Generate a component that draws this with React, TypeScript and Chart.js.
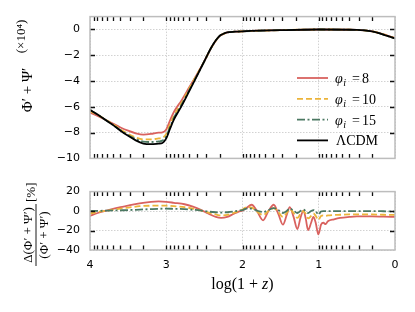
import React, { useEffect, useRef } from "react";
import { Chart, registerables } from "chart.js";
Chart.register(...registerables);

// ---------- data ----------
const topX = [4.0, 3.9, 3.8, 3.7, 3.6, 3.5, 3.4, 3.3, 3.2, 3.1, 3.05, 3.0, 2.95, 2.9, 2.8, 2.7, 2.6, 2.5, 2.4, 2.3, 2.25, 2.2, 2.1, 2.0, 1.5, 1.0, 0.5, 0.3, 0.2, 0.1, 0.0];
const topLCDM = [-6.25, -6.6, -7.0, -7.4, -7.85, -8.25, -8.6, -8.85, -8.9, -8.85, -8.8, -8.45, -7.7, -7.0, -5.95, -4.8, -3.63, -2.46, -1.3, -0.5, -0.33, -0.22, -0.17, -0.14, -0.05, 0, -0.03, -0.15, -0.3, -0.5, -0.7];
const topPhi8 = [-6.45, -6.7, -7.0, -7.3, -7.6, -7.85, -8.05, -8.15, -8.1, -8.0, -7.98, -7.75, -7.05, -6.4, -5.5, -4.5, -3.5, -2.45, -1.33, -0.52, -0.35, -0.23, -0.17, -0.14, -0.05, 0, -0.03, -0.14, -0.28, -0.47, -0.66];
const topPhi10 = [-6.35, -6.62, -6.98, -7.35, -7.75, -8.1, -8.38, -8.52, -8.52, -8.45, -8.4, -8.1, -7.35, -6.7, -5.7, -4.6, -3.52, -2.45, -1.32, -0.51, -0.34, -0.22, -0.17, -0.14, -0.05, 0, -0.03, -0.15, -0.29, -0.48, -0.68];
const topPhi15 = [-6.25, -6.6, -7.0, -7.4, -7.82, -8.2, -8.5, -8.7, -8.73, -8.68, -8.62, -8.3, -7.55, -6.85, -5.85, -4.72, -3.6, -2.46, -1.31, -0.5, -0.33, -0.22, -0.17, -0.14, -0.05, 0, -0.03, -0.15, -0.3, -0.5, -0.7];

const resX = [4.0, 3.9, 3.76, 3.6, 3.5, 3.35, 3.2, 3.1, 3.0, 2.9, 2.76, 2.65, 2.54, 2.45, 2.35, 2.28, 2.2, 2.12, 2.05, 2.0, 1.95, 1.88, 1.81, 1.73, 1.66, 1.59, 1.53, 1.47, 1.42, 1.38, 1.33, 1.28, 1.24, 1.2, 1.17, 1.14, 1.1, 1.07, 1.04, 1.005, 0.97, 0.94, 0.91, 0.88, 0.8, 0.72, 0.6, 0.5, 0.3, 0.15, 0.0];
const resPhi8 = [-5, -2, 1, 4, 5.5, 8, 9.5, 10, 9.5, 8.5, 7, 4.5, 1, -2.5, -6, -7, -6, -3, -0.5, 0.5, 3, 6.5, 0, -9.5, 0, 6.5, -3, -14, -4, 4, -6, -18.5, -7, 0.5, -8, -19.5, -12, -6, -12, -24, -14, -12, -13.5, -10.5, -8.5, -7, -6, -5.5, -5.5, -5.8, -6];
const resPhi10 = [-2.5, -1, 0.5, 2.5, 3.5, 5, 5.5, 5.6, 5.5, 5, 4, 2.5, 0.5, -1.5, -3.5, -4.5, -4, -2, 0, 1.5, 4, 3.5, -0.5, -4, 0, 3, -1, -6, -2, 2, -2, -7, -3, 0, -3, -7.5, -5, -2.5, -5, -9, -5, -4.5, -5, -4.5, -4, -3.8, -3.5, -3.5, -3.5, -3.8, -4];
const resPhi15 = [0, 0.2, 0.5, 0.8, 1, 1.5, 2, 2.3, 2.5, 2.3, 2, 1.3, 0.5, -0.5, -1.2, -1.5, -1.2, -0.5, 0.5, 1, 2.5, 2.5, 0.5, -1, 1, 3, 1, -2, 0, 2.5, 0.5, -2, 0, 1.5, 0, -2, 0, 1, 0, -3.5, -0.5, 0, 0, 0, 0, 0, 0, 0, 0, -0.2, -0.5];

const xTickValues = [0, 1, 2, 3, 4];
const xTickLabels = ["0", "1", "2", "3", "4"];
const topYTicks = [-10, -8, -6, -4, -2, 0];
const resYTicks = [-40, -20, 0, 20];
const minorDecades = [0, 1, 2, 3];
const minorOffsets = [0, 0.301, 0.477, 0.602, 0.699, 0.778, 0.845, 0.903, 0.954];

const legendNumbers = ["8", "10", "15"];
const legendLast = "ΛCDM";
const topYTitle = "Φ′ + Ψ′";
const topMultiplier = "(×10⁴)";
const resNumerator = "Δ(Φ′ + Ψ′)";
const resDenominator = "(Φ′ + Ψ′)";
const resUnit = "[%]";

// ---------- styles ----------
const RED = "#d9625f";
const ORANGE = "#ecb43a";
const GREEN = "#4b7862";
const BLACK = "#000000";
const DASH_OR = [6, 3];
const DASH_GR = [8, 2.5, 2, 2.5];
const SERIF = '"Liberation Serif", "DejaVu Serif", serif';
const SANS = '"DejaVu Sans", sans-serif';
const GRID = "#d2d2d2";

const pts = (xs: number[], ys: number[]) => xs.map((x, i) => ({ x, y: ys[i] }));

const lineDs = (label: string, data: any, color: string, dash: number[]) => ({
  label,
  data,
  borderColor: color,
  backgroundColor: color,
  borderWidth: 1.8,
  borderDash: dash,
  pointRadius: 0,
  cubicInterpolationMode: "monotone" as const,
  fill: false,
});

function framePlugin(yTicks: number[]) {
  return {
    id: "frame",
    afterDatasetsDraw(chart: any) {
      const { ctx, chartArea: a, scales } = chart;
      const xs = scales.x;
      const ys = scales.y;
      ctx.save();
      ctx.strokeStyle = "#111";
      ctx.lineWidth = 1.3;
      ctx.beginPath();
      for (const n of minorDecades) {
        for (const off of minorOffsets) {
          const v = n + off;
          if (v <= 0 || v >= 4) continue;
          const px = Math.round(xs.getPixelForValue(v)) + 0.5;
          ctx.moveTo(px, a.top);
          ctx.lineTo(px, a.top + 4.5);
          ctx.moveTo(px, a.bottom);
          ctx.lineTo(px, a.bottom - 4.5);
        }
      }
      for (const v of yTicks) {
        if (v <= ys.min || v >= ys.max) continue;
        const py = Math.round(ys.getPixelForValue(v)) + 0.5;
        ctx.moveTo(a.left, py);
        ctx.lineTo(a.left + 5, py);
        ctx.moveTo(a.right, py);
        ctx.lineTo(a.right - 5, py);
      }
      ctx.stroke();
      ctx.strokeStyle = "#bdbdbd";
      ctx.lineWidth = 1.5;
      ctx.strokeRect(a.left, a.top, a.right - a.left, a.bottom - a.top);
      ctx.restore();
    },
  };
}

const topTextPlugin = {
  id: "topText",
  afterDraw(chart: any) {
    const ctx = chart.ctx;
    ctx.save();
    ctx.fillStyle = "#000";
    ctx.textAlign = "center";
    ctx.textBaseline = "alphabetic";
    ctx.translate(32, 90);
    ctx.rotate(-Math.PI / 2);
    ctx.font = `15px ${SERIF}`;
    ctx.fillText(topYTitle, 0, 0);
    ctx.restore();

    ctx.save();
    ctx.fillStyle = "#000";
    ctx.textAlign = "center";
    ctx.translate(24.5, 36.5);
    ctx.rotate(-Math.PI / 2);
    ctx.font = `13px ${SERIF}`;
    ctx.fillText(topMultiplier, 0, 0);
    ctx.restore();

    // legend
    const rows = [78, 98.8, 119.6, 140.4];
    const colors = [RED, ORANGE, GREEN, BLACK];
    const dashes = [[], DASH_OR, DASH_GR, []];
    ctx.save();
    for (let i = 0; i < 4; i++) {
      const y = rows[i];
      ctx.strokeStyle = colors[i];
      ctx.lineWidth = 1.8;
      ctx.setLineDash(dashes[i]);
      ctx.beginPath();
      ctx.moveTo(297, y);
      ctx.lineTo(328, y);
      ctx.stroke();
      ctx.setLineDash([]);
      ctx.fillStyle = "#000";
      ctx.textAlign = "left";
      ctx.textBaseline = "alphabetic";
      const by = y + 5;
      if (i < 3) {
        ctx.font = `italic 14px ${SERIF}`;
        ctx.fillText("φ", 335, by);
        const w = ctx.measureText("φ").width;
        ctx.font = `italic 10px ${SERIF}`;
        ctx.fillText("i", 335 + w + 0.5, by + 3);
        ctx.font = `14px ${SERIF}`;
        ctx.fillText("=", 352, by);
        ctx.fillText(legendNumbers[i], 362, by);
      } else {
        ctx.font = `14px ${SERIF}`;
        ctx.fillText(legendLast, 336, by);
      }
    }
    ctx.restore();
  },
};

const BOT_TOP = 175;

const botTextPlugin = {
  id: "botText",
  afterDraw(chart: any) {
    const ctx = chart.ctx;
    // y title fraction
    ctx.save();
    ctx.fillStyle = "#000";
    ctx.strokeStyle = "#000";
    ctx.translate(36, 235 - BOT_TOP);
    ctx.rotate(-Math.PI / 2);
    ctx.font = `13px ${SERIF}`;
    ctx.textAlign = "center";
    ctx.textBaseline = "alphabetic";
    ctx.fillText(resNumerator, 0, -4);
    ctx.fillText(resDenominator, 0, 12);
    ctx.lineWidth = 0.9;
    ctx.beginPath();
    ctx.moveTo(-31, 0);
    ctx.lineTo(31, 0);
    ctx.stroke();
    ctx.textAlign = "left";
    ctx.textBaseline = "middle";
    ctx.font = `13px ${SERIF}`;
    ctx.fillText(resUnit, 33, -4);
    ctx.restore();

    // x title
    ctx.save();
    ctx.fillStyle = "#000";
    ctx.textBaseline = "alphabetic";
    ctx.textAlign = "left";
    const parts: [string, string][] = [
      ["log(1 + ", `16px ${SERIF}`],
      ["z", `italic 16px ${SERIF}`],
      [")", `16px ${SERIF}`],
    ];
    let total = 0;
    for (const [t, f] of parts) {
      ctx.font = f;
      total += ctx.measureText(t).width;
    }
    let x = 242.5 - total / 2;
    const by = 289 - BOT_TOP;
    for (const [t, f] of parts) {
      ctx.font = f;
      ctx.fillText(t, x, by);
      x += ctx.measureText(t).width;
    }
    ctx.restore();
  },
};

const gridCfg = { color: GRID, lineWidth: 1, drawTicks: false };
const borderCfg = { display: false, dash: [1.5, 1.5] };

export default function App() {
  const topRef = useRef<HTMLCanvasElement>(null);
  const botRef = useRef<HTMLCanvasElement>(null);

  useEffect(() => {
    const topChart = new Chart(topRef.current as HTMLCanvasElement, {
      type: "line",
      data: {
        datasets: [
          lineDs("ΛCDM", pts(topX, topLCDM), BLACK, []),
          lineDs("φi = 15", pts(topX, topPhi15), GREEN, DASH_GR),
          lineDs("φi = 10", pts(topX, topPhi10), ORANGE, DASH_OR),
          lineDs("φi = 8", pts(topX, topPhi8), RED, []),
        ],
      },
      options: {
        animation: false,
        responsive: false,
        devicePixelRatio: 1,
        layout: { padding: { top: 16, right: 20, bottom: 12, left: 0 } },
        plugins: { legend: { display: false }, tooltip: { enabled: false } },
        scales: {
          x: {
            type: "linear",
            min: 0,
            max: 4,
            reverse: true,
            afterBuildTicks: (s: any) => {
              s.ticks = xTickValues.map((v) => ({ value: v }));
            },
            afterFit: (s: any) => {
              s.height = 0;
            },
            ticks: { display: false },
            grid: gridCfg,
            border: borderCfg,
          },
          y: {
            type: "linear",
            min: -10,
            max: 1,
            afterBuildTicks: (s: any) => {
              s.ticks = topYTicks.map((v) => ({ value: v }));
            },
            afterFit: (s: any) => {
              s.width = 90;
            },
            ticks: {
              color: "#000",
              padding: 10,
              font: { family: SANS, size: 11 },
              callback: (v: any) => (v < 0 ? "−" + Math.abs(v) : String(v)),
            },
            grid: gridCfg,
            border: borderCfg,
          },
        },
      } as any,
      plugins: [framePlugin(topYTicks), topTextPlugin],
    });

    const botChart = new Chart(botRef.current as HTMLCanvasElement, {
      type: "line",
      data: {
        datasets: [
          lineDs("φi = 15", pts(resX, resPhi15), GREEN, DASH_GR),
          lineDs("φi = 10", pts(resX, resPhi10), ORANGE, DASH_OR),
          lineDs("φi = 8", pts(resX, resPhi8), RED, []),
        ],
      },
      options: {
        animation: false,
        responsive: false,
        devicePixelRatio: 1,
        layout: { padding: { top: 14, right: 20, bottom: 0, left: 0 } },
        plugins: { legend: { display: false }, tooltip: { enabled: false } },
        scales: {
          x: {
            type: "linear",
            min: 0,
            max: 4,
            reverse: true,
            afterBuildTicks: (s: any) => {
              s.ticks = xTickValues.map((v) => ({ value: v }));
            },
            afterFit: (s: any) => {
              s.height = 62;
            },
            ticks: {
              color: "#000",
              padding: 9,
              maxRotation: 0,
              font: { family: SANS, size: 11 },
              callback: (v: any) => xTickLabels[xTickValues.indexOf(v)] ?? "",
            },
            grid: gridCfg,
            border: borderCfg,
          },
          y: {
            type: "linear",
            min: -40,
            max: 20,
            afterBuildTicks: (s: any) => {
              s.ticks = resYTicks.map((v) => ({ value: v }));
            },
            afterFit: (s: any) => {
              s.width = 90;
            },
            ticks: {
              color: "#000",
              padding: 10,
              font: { family: SANS, size: 11 },
              callback: (v: any) => (v < 0 ? "−" + Math.abs(v) : String(v)),
            },
            grid: gridCfg,
            border: borderCfg,
          },
        },
      } as any,
      plugins: [framePlugin(resYTicks), botTextPlugin],
    });

    return () => {
      topChart.destroy();
      botChart.destroy();
    };
  }, []);

  return (
    <div style={{ position: "absolute", left: 0, top: 0, width: 415, height: 312, background: "#fff" }}>
      <canvas
        ref={topRef}
        width={415}
        height={BOT_TOP}
        style={{ position: "absolute", left: 0, top: 0, width: 415, height: BOT_TOP }}
      />
      <canvas
        ref={botRef}
        width={415}
        height={312 - BOT_TOP}
        style={{ position: "absolute", left: 0, top: BOT_TOP, width: 415, height: 312 - BOT_TOP }}
      />
    </div>
  );
}
